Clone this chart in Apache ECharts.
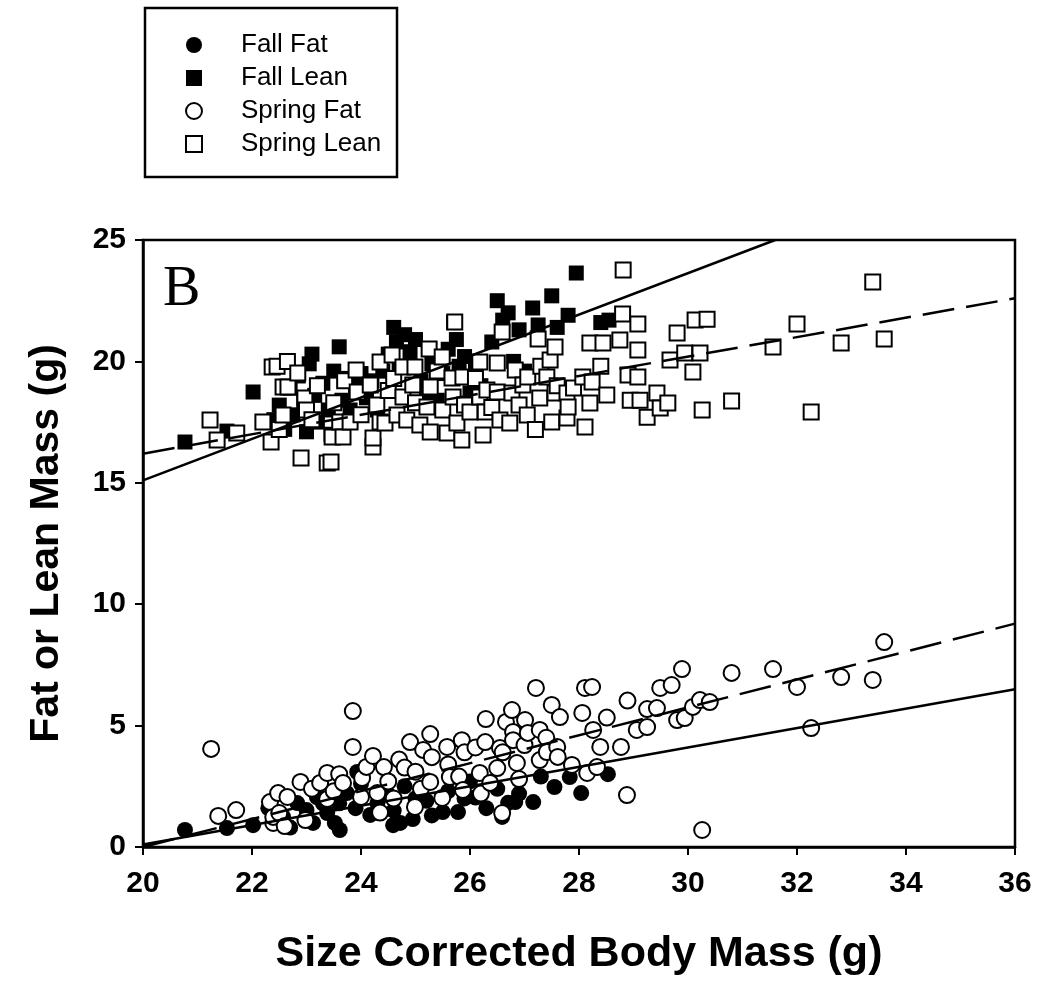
<!DOCTYPE html>
<html>
<head>
    <meta charset="utf-8" />
    <script src="https://cdn.jsdelivr.net/npm/echarts@6/dist/echarts.min.js"></script>
    <style type="text/css">
        html, body { margin: 0; padding: 0; background: #fff; }
        #main { width: 1037px; height: 981px; }
    </style>
</head>
<body>
    <div id="main"></div>
    <script type="text/javascript">
        // x 轴刻度 / y 轴刻度
        var xTicks = [20, 22, 24, 26, 28, 30, 32, 34, 36];
        var yTicks = [0, 5, 10, 15, 20, 25];

        // Fall Lean (实心方块)
        var fallLean = [
            [20.77, 16.68], [21.54, 17.13], [22.02, 18.74], [22.4, 17.6], [22.5, 18.2], [22.6, 17.2],
            [22.7, 18.9], [22.75, 17.8], [22.85, 19.4], [22.95, 18.3], [23.0, 17.1], [23.05, 19.9],
            [23.1, 20.3], [23.15, 18.6], [23.2, 17.5], [23.3, 19.1], [23.4, 18.0], [23.45, 17.0],
            [23.5, 19.6], [23.6, 20.6], [23.65, 18.4], [23.7, 19.3], [23.8, 18.0], [23.9, 19.0],
            [24.0, 19.5], [24.1, 18.5], [24.2, 19.2], [24.3, 18.0], [24.4, 19.6], [24.5, 20.3],
            [24.6, 21.4], [24.65, 20.8], [24.7, 19.8], [24.8, 21.1], [24.9, 20.4], [25.0, 20.9],
            [25.1, 19.2], [25.2, 18.6], [25.3, 19.9], [25.4, 18.4], [25.5, 19.5], [25.6, 20.5],
            [25.7, 21.6], [25.75, 20.9], [25.8, 19.8], [25.9, 20.2], [26.0, 18.7], [26.1, 19.9],
            [26.2, 19.0], [26.4, 20.8], [26.5, 22.5], [26.6, 21.7], [26.7, 22.0], [26.8, 20.0],
            [26.9, 21.3], [27.0, 19.6], [27.15, 22.2], [27.25, 21.5], [27.5, 22.7], [27.6, 21.4],
            [27.8, 21.9], [27.95, 23.64], [28.4, 21.6], [28.55, 21.7]
        ];

        // Spring Lean (空心方块)
        var springLean = [
            [21.23, 17.59], [21.36, 16.76], [21.72, 17.05], [22.2, 17.5], [22.35, 16.68], [22.37, 19.77],
            [22.46, 19.8], [22.5, 17.2], [22.57, 18.95], [22.57, 17.79], [22.65, 20.0], [22.66, 18.95],
            [22.84, 19.52], [22.9, 16.02], [22.97, 18.49], [23.0, 18.0], [23.1, 17.6], [23.2, 19.0],
            [23.38, 15.82], [23.45, 15.86], [23.47, 16.89], [23.5, 18.3], [23.61, 17.5], [23.67, 16.89],
            [23.7, 19.2], [23.8, 17.5], [23.91, 19.65], [23.93, 18.74], [24.0, 17.8], [24.17, 19.03],
            [24.22, 16.47], [24.22, 16.84], [24.29, 18.2], [24.35, 19.98], [24.35, 17.5], [24.44, 17.46],
            [24.5, 18.8], [24.57, 20.26], [24.6, 19.3], [24.66, 17.79], [24.77, 19.77], [24.77, 18.53],
            [24.84, 17.59], [24.95, 19.03], [24.99, 19.77], [25.0, 18.3], [25.08, 17.38], [25.21, 18.12],
            [25.25, 20.51], [25.27, 18.95], [25.27, 17.09], [25.4, 19.6], [25.49, 20.18], [25.5, 18.0],
            [25.58, 17.05], [25.67, 19.32], [25.69, 18.53], [25.72, 21.62], [25.76, 17.46], [25.85, 16.76],
            [25.87, 19.36], [25.9, 18.2], [26.0, 17.92], [26.1, 19.3], [26.18, 19.98], [26.18, 18.53],
            [26.24, 16.97], [26.28, 17.92], [26.31, 18.82], [26.4, 18.1], [26.5, 19.93], [26.5, 18.74],
            [26.55, 17.59], [26.59, 21.21], [26.73, 17.46], [26.77, 18.7], [26.83, 19.65], [26.9, 18.2],
            [26.97, 19.03], [27.05, 17.79], [27.06, 19.36], [27.2, 17.2], [27.25, 20.92], [27.28, 18.49],
            [27.3, 19.8], [27.41, 19.36], [27.47, 20.06], [27.5, 17.5], [27.56, 20.59], [27.56, 18.7],
            [27.6, 19.0], [27.78, 18.7], [27.78, 17.67], [27.8, 18.12], [27.9, 18.9], [28.07, 19.36],
            [28.11, 17.3], [28.2, 18.29], [28.2, 20.76], [28.24, 19.15], [28.4, 19.8], [28.44, 20.76],
            [28.51, 18.62], [28.75, 20.88], [28.81, 23.76], [28.8, 21.95], [28.9, 19.44], [28.94, 18.4],
            [29.08, 21.54], [29.08, 20.47], [29.08, 19.36], [29.12, 18.4], [29.25, 17.7], [29.43, 18.7],
            [29.49, 18.08], [29.63, 18.29], [29.67, 20.06], [29.8, 21.17], [29.94, 20.35], [30.09, 19.56],
            [30.13, 21.7], [30.22, 20.35], [30.26, 18.0], [30.35, 21.74], [30.8, 18.37], [31.56, 20.59],
            [32.0, 21.54], [32.26, 17.92], [32.81, 20.76], [33.39, 23.27], [33.6, 20.92]
        ];

        // Fall Fat (实心圆)
        var fallFat = [
            [20.77, 0.70], [21.54, 0.78], [22.02, 0.9], [22.3, 1.6], [22.57, 1.24], [22.7, 0.8],
            [22.83, 1.81], [23.0, 1.52], [23.12, 0.99], [23.19, 2.06], [23.3, 1.8], [23.38, 1.4],
            [23.52, 0.99], [23.6, 1.8], [23.61, 0.7], [23.74, 2.22], [23.9, 1.6], [23.93, 3.09],
            [24.0, 2.6], [24.17, 1.32], [24.3, 1.8], [24.48, 2.22], [24.59, 0.9], [24.6, 1.5],
            [24.72, 0.99], [24.8, 2.5], [24.95, 1.15], [25.0, 2.0], [25.2, 1.9], [25.3, 1.3],
            [25.5, 1.44], [25.6, 2.3], [25.78, 1.44], [25.9, 2.0], [26.0, 2.7], [26.1, 2.04],
            [26.3, 1.6], [26.5, 2.4], [26.59, 1.24], [26.7, 1.82], [26.83, 1.85], [26.9, 2.2],
            [27.16, 1.85], [27.3, 2.9], [27.55, 2.47], [27.83, 2.88], [28.04, 2.22], [28.53, 3.0]
        ];

        // Spring Fat (空心圆)
        var springFat = [
            [21.25, 4.04], [21.38, 1.28], [21.71, 1.52], [22.33, 1.85], [22.39, 0.99], [22.39, 1.24],
            [22.48, 2.22], [22.5, 1.4], [22.6, 0.86], [22.65, 2.06], [22.89, 2.68], [22.98, 1.11],
            [23.1, 2.4], [23.25, 2.64], [23.38, 3.05], [23.38, 1.98], [23.5, 2.3], [23.6, 3.0],
            [23.67, 2.64], [23.85, 5.6], [23.85, 4.12], [24.0, 2.06], [24.02, 2.84], [24.1, 3.3],
            [24.22, 3.75], [24.3, 2.22], [24.35, 1.42], [24.42, 3.29], [24.5, 2.7], [24.6, 2.0],
            [24.7, 3.6], [24.8, 3.27], [24.9, 4.32], [24.99, 1.65], [25.0, 3.1], [25.1, 2.4],
            [25.14, 4.0], [25.27, 4.65], [25.27, 2.68], [25.3, 3.7], [25.49, 2.02], [25.58, 4.12],
            [25.6, 3.4], [25.63, 2.88], [25.8, 2.9], [25.85, 4.4], [25.87, 2.35], [25.9, 3.9],
            [26.1, 4.1], [26.18, 3.05], [26.2, 2.2], [26.28, 4.32], [26.29, 5.27], [26.37, 2.64],
            [26.5, 3.25], [26.55, 4.08], [26.59, 1.4], [26.6, 3.9], [26.66, 5.15], [26.77, 5.64],
            [26.79, 4.74], [26.79, 4.4], [26.86, 3.46], [26.9, 2.8], [27.0, 4.2], [27.01, 5.23],
            [27.06, 4.7], [27.21, 6.55], [27.28, 4.82], [27.28, 3.58], [27.4, 4.5], [27.41, 3.91],
            [27.5, 5.85], [27.6, 4.12], [27.61, 3.71], [27.65, 5.35], [27.87, 3.38], [28.06, 5.52],
            [28.11, 6.55], [28.24, 6.59], [28.15, 3.05], [28.26, 4.82], [28.33, 3.29], [28.39, 4.12],
            [28.51, 5.33], [28.77, 4.12], [28.89, 6.03], [28.88, 2.14], [29.06, 4.82], [29.25, 5.68],
            [29.25, 4.94], [29.43, 5.72], [29.49, 6.55], [29.7, 6.67], [29.8, 5.23], [29.89, 7.33],
            [29.94, 5.31], [30.09, 5.77], [30.22, 6.05], [30.26, 0.7], [30.4, 5.97], [30.8, 7.17],
            [31.56, 7.33], [32.0, 6.59], [32.26, 4.9], [32.81, 7.0], [33.39, 6.88], [33.6, 8.44]
        ];

        // 回归线端点
        var fallLeanFit = [[20, 15.1], [31.6, 25.0]];
        var springLeanFit = [[20, 16.2], [36, 22.6]];
        var fallFatFit = [[20, 0.1], [36, 6.5]];
        var springFatFit = [[20, 0.0], [36, 9.2]];

        var myChart = echarts.init(document.getElementById("main"));

        var tickFont = { fontFamily: "Liberation Sans", fontWeight: "bold", fontSize: 30, color: "#000" };
        var nameFont = { fontFamily: "Liberation Sans", fontWeight: "bold", fontSize: 43, color: "#000" };

        var option = {
            animation: false,
            backgroundColor: "#fff",
            grid: {
                left: 143, right: 22, top: 240, bottom: 134,
                show: true, borderColor: "#000", borderWidth: 2.5
            },
            legend: {
                data: ["Fall Fat", "Fall Lean", "Spring Fat", "Spring Lean"],
                orient: "vertical",
                left: 185, top: 32, padding: 0,
                itemWidth: 16, itemHeight: 16, itemGap: 7,
                textStyle: { fontFamily: "Liberation Sans", fontSize: 26, color: "#000", padding: [0, 0, 0, 34] }
            },
            graphic: [{
                type: "rect",
                shape: { x: 145, y: 8, width: 252, height: 169 },
                style: { fill: "none", stroke: "#000", lineWidth: 2.5 }
            }, {
                type: "text",
                left: 163, top: 262,
                style: { text: "B", font: "56px 'Liberation Serif'", fill: "#000" }
            }],
            xAxis: {
                type: "value", min: xTicks[0], max: xTicks[xTicks.length - 1], interval: 2,
                name: "Size Corrected Body Mass (g)", nameLocation: "middle", nameGap: 86,
                nameTextStyle: nameFont,
                axisLine: { lineStyle: { color: "#000", width: 2.5 } },
                axisTick: { length: 8, lineStyle: { color: "#000", width: 2 } },
                axisLabel: Object.assign({ margin: 22 }, tickFont),
                splitLine: { show: false }
            },
            yAxis: {
                type: "value", min: yTicks[0], max: yTicks[yTicks.length - 1], interval: 5,
                name: "Fat or Lean Mass (g)", nameLocation: "middle", nameGap: 76,
                nameTextStyle: Object.assign({}, nameFont, { fontSize: 41 }),
                axisLine: { show: true, lineStyle: { color: "#000", width: 2.5 } },
                axisTick: { show: true, length: 8, lineStyle: { color: "#000", width: 2 } },
                axisLabel: Object.assign({ margin: 17 }, tickFont),
                splitLine: { show: false }
            },
            series: [
                {
                    name: "Fall Fat", type: "scatter", symbol: "circle", symbolSize: 16,
                    itemStyle: { color: "#000", opacity: 1 }, data: fallFat
                },
                {
                    name: "Fall Lean", type: "scatter", symbol: "rect", symbolSize: 15,
                    itemStyle: { color: "#000", opacity: 1 }, data: fallLean
                },
                {
                    name: "Spring Fat", type: "scatter", symbol: "circle", symbolSize: 16,
                    itemStyle: { color: "#fff", borderColor: "#000", borderWidth: 2, opacity: 1 }, data: springFat
                },
                {
                    name: "Spring Lean", type: "scatter", symbol: "rect", symbolSize: 15,
                    itemStyle: { color: "#fff", borderColor: "#000", borderWidth: 2, opacity: 1 }, data: springLean
                },
                {
                    name: "fallLeanFit", type: "line", symbol: "none", data: fallLeanFit,
                    lineStyle: { color: "#000", width: 2.5 }, z: 5
                },
                {
                    name: "springLeanFit", type: "line", symbol: "none", data: springLeanFit,
                    lineStyle: { color: "#000", width: 2.5, type: [32, 12] }, z: 5
                },
                {
                    name: "fallFatFit", type: "line", symbol: "none", data: fallFatFit,
                    lineStyle: { color: "#000", width: 2.5 }, z: 5
                },
                {
                    name: "springFatFit", type: "line", symbol: "none", data: springFatFit,
                    lineStyle: { color: "#000", width: 2.5, type: [32, 12] }, z: 5
                }
            ]
        };

        myChart.setOption(option);
    </script>
</body>
</html>
